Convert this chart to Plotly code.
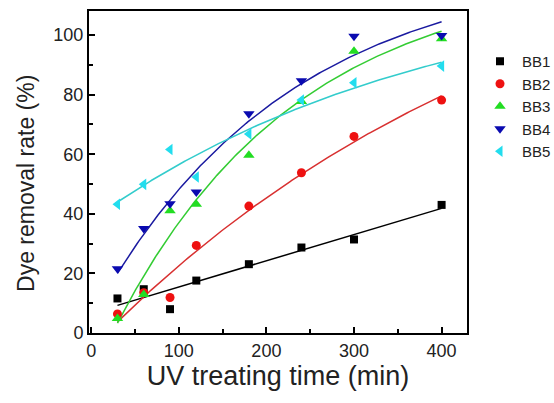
import numpy as np
import plotly.graph_objects as go

# UV treating time (min)
time_min = [30, 60, 90, 120, 180, 240, 300, 400]

# Dye removal rate (%)
bb1 = [11.6, 14.7, 8.0, 17.6, 23.1, 28.7, 31.4, 43.0]
bb2 = [6.4, 13.5, 11.9, 29.4, 42.6, 53.8, 66.0, 78.2]
bb3 = [4.9, 12.9, 41.0, 43.2, 59.7, 77.7, 94.6, 98.8]
bb4 = [21.6, 35.1, 43.4, 47.3, 73.6, 84.7, 99.6, 99.9]
bb5 = [43.2, 49.9, 61.6, 52.4, 66.8, 78.2, 84.0, 89.6]

names = ["BB1", "BB2", "BB3", "BB4", "BB5"]
series = [bb1, bb2, bb3, bb4, bb5]
fit_kind = ["linear", "exp", "exp", "exp", "exp"]
marker_colors = ["#000000", "#EE1111", "#22DD22", "#0A0AB0", "#22DDEE"]
line_colors = ["#000000", "#D83030", "#33CC33", "#1A1AA0", "#33CCCC"]
symbols = ["square", "circle", "triangle-up", "triangle-down", "triangle-left"]
sizes = [8, 9, 10, 10, 10]


def fit_curve(x, y, kind, xe):
    if kind == "linear":
        return np.polyval(np.polyfit(x, y, 1), xe)
    # y = y0 - A*exp(-x/t): scan t, linear least squares for y0, A
    best = None
    for t in np.linspace(50, 3000, 600):
        M = np.column_stack([np.ones_like(x), np.exp(-x / t)])
        c, *_ = np.linalg.lstsq(M, y, rcond=None)
        r = np.sum((M @ c - y) ** 2)
        if best is None or r < best[0]:
            best = (r, t, c)
    _, t, c = best
    return c[0] + c[1] * np.exp(-xe / t)


fig = go.Figure()
xs = np.array(time_min, dtype=float)
xfit = np.linspace(xs.min(), xs.max(), 200)
for ys, kind, lc in zip(series, fit_kind, line_colors):
    fig.add_trace(go.Scatter(x=xfit, y=fit_curve(xs, np.array(ys), kind, xfit), mode="lines",
                             line=dict(color=lc, width=1.5), showlegend=False, hoverinfo="skip"))
for name, ys, mc, sym, sz in zip(names, series, marker_colors, symbols, sizes):
    fig.add_trace(go.Scatter(x=time_min, y=ys, mode="markers", name=name,
                             marker=dict(symbol=sym, size=sz, color=mc, line=dict(width=0))))

axis_common = dict(showline=True, linecolor="black", linewidth=2, mirror=True,
                   ticks="inside", tickcolor="black", tickwidth=1.5, ticklen=6,
                   showgrid=False, zeroline=False,
                   tickfont=dict(family="Liberation Sans, Arial", size=18, color="#222"))

W, H = 554, 403
ML, MR, MT, MB = 89, 81, 9, 70
plot_w = W - ML - MR
plot_h = H - MT - MB

fig.update_layout(
    width=W, height=H,
    margin=dict(l=ML, r=MR, t=MT, b=MB),
    paper_bgcolor="white", plot_bgcolor="white",
    font=dict(family="Liberation Sans, Arial", color="#222"),
    xaxis=dict(range=[-2.5, 429], tickvals=[0, 100, 200, 300, 400],
               minor=dict(ticks="inside", ticklen=4, tickwidth=1.5, tickcolor="black", dtick=50, tick0=0),
               title=dict(text="UV treating time (min)", font=dict(size=27), standoff=6),
               **axis_common),
    yaxis=dict(range=[0, 108.1], tickvals=[0, 20, 40, 60, 80, 100],
               minor=dict(ticks="inside", ticklen=4, tickwidth=1.5, tickcolor="black", dtick=10, tick0=0),
               **axis_common),
    legend=dict(xref="container", yref="container",
                x=478 / W, xanchor="left", y=1 - 45 / H, yanchor="top",
                font=dict(size=15, color="#222"), bgcolor="rgba(0,0,0,0)",
                itemwidth=34, tracegroupgap=0, borderwidth=0),
    annotations=[dict(text="Dye removal rate (%)", textangle=-90, showarrow=False,
                      xref="paper", yref="paper", x=(25 - ML) / plot_w, y=(333 - 183) / plot_h,
                      xanchor="center", yanchor="middle", font=dict(size=23, color="#222"))],
)

fig.write_html("out.html")
